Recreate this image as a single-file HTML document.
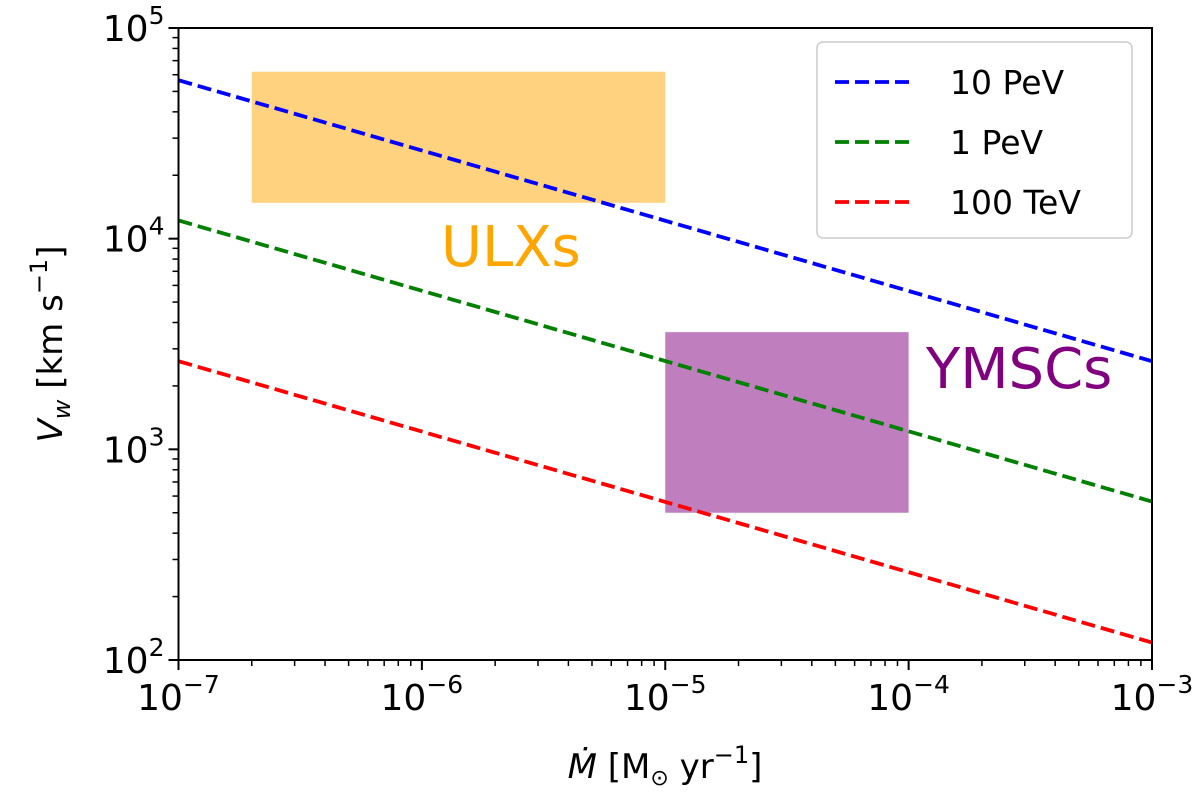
<!DOCTYPE html>
<html><head><meta charset="utf-8"><style>
body{margin:0;background:#fff;}
svg text{font-family:"DejaVu Sans","Liberation Sans",sans-serif;fill:#000;}
</style></head><body>
<svg id="chart" width="1200" height="805" xmlns="http://www.w3.org/2000/svg"></svg>
<script>
const xTickExps = [-7, -6, -5, -4, -3];
const yTickExps = [2, 3, 4, 5];
const seriesNames = ["10 PeV", "1 PeV", "100 TeV"];
const seriesColors = ["#0000ff", "#008000", "#ff0000"];
const mdotPoints = [1e-7, 1e-3];
const vel10PeV = [56500, 2620];
const vel1PeV = [12200, 565];
const vel100TeV = [2620, 121];
const ulxBox = [2e-7, 1e-5, 1.48e4, 6.2e4];
const ymscBox = [1e-5, 1e-4, 500, 3600];

const NS = "http://www.w3.org/2000/svg";
const svg = document.getElementById("chart");
const L = 178.5, R = 1152, T = 28, B = 660;
const xs = v => L + (Math.log10(v) + 7) / 4 * (R - L);
const ys = v => B - (Math.log10(v) - 2) / 3 * (B - T);
function mk(tag, attrs, parent) {
  const e = document.createElementNS(NS, tag);
  for (const k in attrs) e.setAttribute(k, attrs[k]);
  (parent || svg).appendChild(e);
  return e;
}
let r = mk("rect", {x: xs(ulxBox[0]), y: ys(ulxBox[3]), width: xs(ulxBox[1]) - xs(ulxBox[0]), height: ys(ulxBox[2]) - ys(ulxBox[3]), fill: "#ffa500", "fill-opacity": 0.5});


r = mk("rect", {x: xs(ymscBox[0]), y: ys(ymscBox[3]), width: xs(ymscBox[1]) - xs(ymscBox[0]), height: ys(ymscBox[2]) - ys(ymscBox[3]), fill: "#800080", "fill-opacity": 0.5});


const allVel = [vel10PeV, vel1PeV, vel100TeV];
allVel.forEach((vals, i) => {
  const pts = mdotPoints.map((m, j) => xs(m) + "," + ys(vals[j])).join(" ");
  const p = mk("polyline", {points: pts, fill: "none", stroke: seriesColors[i], "stroke-width": 3.8, "stroke-dasharray": "14,6"});
  
  
});
let t = mk("text", {x: 441, y: 266, "font-size": 56, style: "fill:#ffa500"}); t.textContent = "ULXs";
 
t = mk("text", {x: 926, y: 388, "font-size": 56, style: "fill:#800080"}); t.textContent = "YMSCs";
 
const fr = mk("rect", {x: L, y: T, width: R - L, height: B - T, fill: "none", stroke: "#000", "stroke-width": 2});
 
xTickExps.forEach((e, i) => {
  const x = xs(Math.pow(10, e));
  mk("line", {x1: x, x2: x, y1: B, y2: B + 10, stroke: "#000", "stroke-width": 2});
  const tx = mk("text", {x: x, y: B + 50, "font-size": 36, "text-anchor": "middle"});
  tx.innerHTML = '10<tspan dy="-17" font-size="25">\u2212' + Math.abs(e) + '</tspan>';
   
  if (i < xTickExps.length - 1) for (let k = 2; k < 10; k++) {
    const xm = xs(k * Math.pow(10, e));
    mk("line", {x1: xm, x2: xm, y1: B, y2: B + 6, stroke: "#000", "stroke-width": 1.5});
  }
});
yTickExps.forEach((e, i) => {
  const y = ys(Math.pow(10, e));
  mk("line", {x1: L - 10, x2: L, y1: y, y2: y, stroke: "#000", "stroke-width": 2});
  const tx = mk("text", {x: L - 14, y: y + 13, "font-size": 36, "text-anchor": "end"});
  tx.innerHTML = '10<tspan dy="-17" font-size="25">' + e + '</tspan>';
   
  if (i < yTickExps.length - 1) for (let k = 2; k < 10; k++) {
    const ym = ys(k * Math.pow(10, e));
    mk("line", {x1: L - 6, x2: L, y1: ym, y2: ym, stroke: "#000", "stroke-width": 1.5});
  }
});
t = mk("text", {x: 665, y: 778, "font-size": 34, "text-anchor": "middle"});
t.innerHTML = '<tspan font-style="italic">\u1E40</tspan> [M<tspan font-size="22" dy="7">\u2299</tspan><tspan dy="-7"> yr</tspan><tspan dy="-15" font-size="24">\u22121</tspan><tspan dy="15">]</tspan>';
 
t = mk("text", {x: 0, y: 0, "font-size": 34, "text-anchor": "middle", transform: "translate(62,344) rotate(-90)"});
t.innerHTML = '<tspan font-style="italic">V</tspan><tspan font-style="italic" font-size="24" dy="8">w</tspan><tspan dy="-8"> [km s</tspan><tspan dy="-15" font-size="24">\u22121</tspan><tspan dy="15">]</tspan>';
 
const lg = mk("g", {});
 
mk("rect", {x: 817, y: 42, width: 315, height: 196, rx: 6, fill: "#fff", "fill-opacity": 0.8, stroke: "#ccc", "stroke-width": 1.5}, lg);
seriesNames.forEach((n, i) => {
  const y = 82 + i * 60;
  const g = mk("g", {}, lg);
   
  mk("line", {x1: 835, x2: 915, y1: y, y2: y, stroke: seriesColors[i], "stroke-width": 3.8, "stroke-dasharray": "14,6"}, g);
  const tt = mk("text", {x: 950, y: y + 12, "font-size": 33}, g);
  tt.textContent = n;
});
</script>
</body></html>
